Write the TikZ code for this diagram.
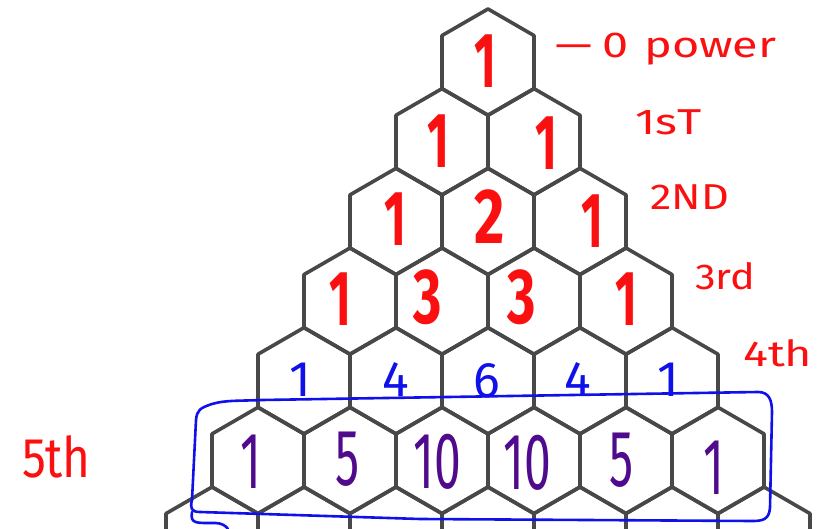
\documentclass[tikz,border=0pt]{standalone}
\usepackage{fontspec}
\setmainfont{Fira Sans}
\usepackage{graphicx}
\definecolor{hred}{RGB}{250,16,16}
\definecolor{hblue}{RGB}{16,16,235}
\definecolor{hpurple}{RGB}{80,10,140}
\definecolor{hexgray}{RGB}{72,72,72}
\tikzset{
  hexline/.style={draw=hexgray, line width=3.6pt, line join=round},
  reddig/.style={text=hred, inner sep=0pt, font=\bfseries\fontsize{78}{78}\selectfont},
  bluedig/.style={text=hblue, inner sep=0pt, font=\fontsize{50}{50}\selectfont},
  purpdig/.style={text=hpurple, inner sep=0pt, font=\fontsize{80}{80}\selectfont},
  lab/.style={text=hred, inner sep=0pt, anchor=base west, font=\fontsize{36}{36}\selectfont},
  bluebox/.style={draw=hblue, line width=2.6pt, line cap=round, line join=round},
}
\begin{document}
\begin{tikzpicture}[x=1pt,y=-1pt]
\useasboundingbox (0,0) rectangle (820,529);
\begin{scope}
\clip (0,0) rectangle (820,529);
\foreach \n in {0,...,6}{
  \foreach \k in {0,...,\n}{
    \pgfmathsetmacro\cx{488+(\k-\n/2)*92}
    \pgfmathsetmacro\cy{62.1+\n*79.67}
    \draw[hexline] (\cx+46,\cy-26.56) -- (\cx,\cy-53.12) -- (\cx-46,\cy-26.56)
      -- (\cx-46,\cy+26.56) -- (\cx,\cy+53.12) -- (\cx+46,\cy+26.56) -- cycle;
  }
}
\end{scope}
% row 0-3 red digits
\node[reddig] (r00) at (485,61) {\scalebox{0.6}[1]{1}};
\node[reddig] (r10) at (438,141) {\scalebox{0.6}[1]{1}};
\node[reddig] (r11) at (546,143) {\scalebox{0.6}[1]{1}};
\node[reddig] (r20) at (395,219) {\scalebox{0.6}[1]{1}};
\node[reddig] (r21) at (490,217) {\scalebox{0.75}[1]{2}};
\node[reddig] (r22) at (592,221) {\scalebox{0.6}[1]{1}};
\node[reddig] (r30) at (340,299) {\scalebox{0.6}[1]{1}};
\node[reddig] (r31) at (428,297) {\scalebox{0.7}[1]{3}};
\node[reddig] (r32) at (522,297) {\scalebox{0.7}[1]{3}};
\node[reddig] (r33) at (626,299) {\scalebox{0.6}[1]{1}};
% row 4 blue digits
\node[bluedig] (r40) at (300,380) {1};
\node[bluedig] (r41) at (396,380) {4};
\node[bluedig] (r42) at (487,381) {6};
\node[bluedig] (r43) at (578,380) {4};
\node[bluedig] (r44) at (668,380) {1};
% row 5 purple digits
\node[purpdig] (r50) at (251,462) {\scalebox{0.6}[1]{1}};
\node[purpdig] (r51) at (348,459) {\scalebox{0.6}[1]{5}};
\node[purpdig] (r52) at (437,462) {\scalebox{0.6}[1]{10}};
\node[purpdig] (r53) at (527,463) {\scalebox{0.6}[1]{10}};
\node[purpdig] (r54) at (622,460) {\scalebox{0.6}[1]{5}};
\node[purpdig] (r55) at (714,468) {\scalebox{0.6}[1]{1}};
% labels
\node[lab] (l0) at (555,58) {\scalebox{1.3}[1]{\textemdash\hspace{8pt}0\hspace{12pt}power}};
\node[lab] (l1) at (635,135) {\scalebox{1.3}[1]{1sT}};
\node[lab] (l2) at (650,210) {\scalebox{1.2}[1]{2ND}};
\node[lab] (l3) at (695,290) {\scalebox{1.15}[1]{3rd}};
\node[lab] (l4) at (743,367) {\scalebox{1.3}[1]{4th}};
\node[lab, font=\fontsize{56}{56}\selectfont] (l5) at (22,477) {\scalebox{0.85}[1]{5th}};
% blue box
\draw[bluebox] (262,400) -- (758,392) .. controls (769,392) and (772,400) .. (772,412)
  -- (770,508) .. controls (769,520) and (762,521) .. (752,521) -- (420,519) -- (200,512)
  .. controls (191,512) and (190,508) .. (192,500) -- (196,420)
  .. controls (197,410) and (200,408) .. (212,404) .. controls (225,400) and (240,401) .. (262,400);
\draw[bluebox] (192,512) .. controls (190,524) and (196,523) .. (215,523)
  .. controls (222,523) and (226,526) .. (228,529);
\end{tikzpicture}
\end{document}
